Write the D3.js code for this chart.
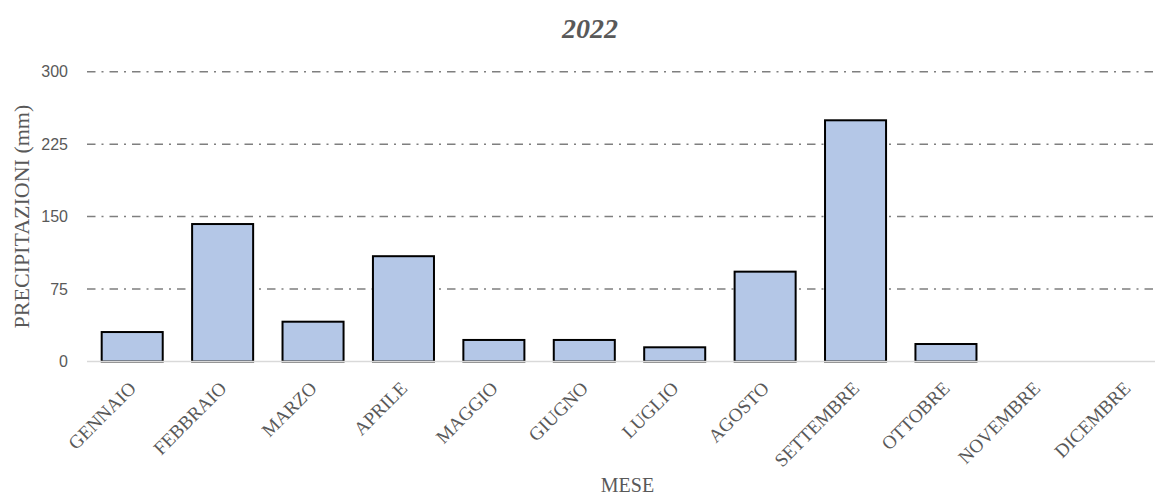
<!DOCTYPE html>
<html>
<head>
<meta charset="utf-8">
<script src="https://cdn.jsdelivr.net/npm/d3@7"></script>
<style>
  html, body { margin: 0; padding: 0; background: #fff; }
  svg { display: block; }
</style>
</head>
<body>
<script>
// Monthly precipitation, 2022
const months = ["GENNAIO", "FEBBRAIO", "MARZO", "APRILE", "MAGGIO", "GIUGNO",
                "LUGLIO", "AGOSTO", "SETTEMBRE", "OTTOBRE", "NOVEMBRE", "DICEMBRE"];
const precipitation = [30.5, 142.3, 41.2, 109, 22.3, 22.3, 14.7, 93, 249.7, 18.1, 0, 0];
const yTicks = [0, 75, 150, 225, 300];
const chartTitle = "2022";
const xTitle = "MESE";
const yTitle = "PRECIPITAZIONI (mm)";

const W = 1155, H = 495;
const plot = { left: 87, right: 1172, top: 71.7, bottom: 361.5 };

const svg = d3.select("body").append("svg")
  .attr("width", W).attr("height", H);

const x = d3.scaleBand()
  .domain(months)
  .range([plot.left, plot.right])
  .paddingInner(0.325)
  .paddingOuter(0.1625);

const y = d3.scaleLinear()
  .domain([0, 300])
  .range([plot.bottom, plot.top]);

// Horizontal dash-dot gridlines
svg.append("g")
  .selectAll("line")
  .data(yTicks.filter(d => d > 0))
  .join("line")
  .attr("x1", plot.left).attr("x2", plot.right)
  .attr("y1", d => y(d)).attr("y2", d => y(d))
  .attr("stroke", "#7f7f7f")
  .attr("stroke-width", 1.5)
  .attr("stroke-dasharray", "8.5,6,2,6");

// Y axis tick labels
const yAxis = d3.axisLeft(y).tickValues(yTicks).tickSize(0).tickPadding(0);
const gy = svg.append("g")
  .attr("transform", `translate(${plot.left - 19},0)`)
  .call(yAxis);
gy.select(".domain").remove();
gy.selectAll("text")
  .attr("fill", "#595959")
  .style("font-family", "'Liberation Sans', Arial, sans-serif")
  .style("font-size", "16px");

// Bars
svg.append("g")
  .selectAll("rect")
  .data(months.map((m, i) => ({ m, v: precipitation[i] })).filter(d => d.v > 0))
  .join("rect")
  .attr("x", d => x(d.m))
  .attr("width", x.bandwidth())
  .attr("y", d => y(d.v))
  .attr("height", d => y(0) - y(d.v))
  .attr("fill", "#b4c7e7")
  .attr("stroke", "#000")
  .attr("stroke-width", 2);

// Category axis line
svg.append("line")
  .attr("x1", plot.left).attr("x2", plot.right)
  .attr("y1", y(0)).attr("y2", y(0))
  .attr("stroke", "#d9d9d9")
  .attr("stroke-width", 1.5);

// Rotated month labels
const xAxis = d3.axisBottom(x).tickSize(0).tickPadding(0);
const gx = svg.append("g")
  .attr("transform", `translate(0,${plot.bottom})`)
  .call(xAxis);
gx.select(".domain").remove();
gx.selectAll("text")
  .attr("fill", "#595959")
  .style("font-family", "'Liberation Serif', 'Times New Roman', serif")
  .style("font-size", "19px")
  .attr("text-anchor", "end")
  .attr("dy", null)
  .attr("y", 0)
  .attr("transform", "translate(5,28) rotate(-45)");

// Chart title
svg.append("text")
  .attr("x", 590).attr("y", 38)
  .attr("text-anchor", "middle")
  .attr("fill", "#595959")
  .style("font-family", "'Liberation Serif', 'Times New Roman', serif")
  .style("font-weight", "bold")
  .style("font-style", "italic")
  .style("font-size", "28px")
  .text(chartTitle);

// Axis titles
svg.append("text")
  .attr("x", (plot.left + plot.right) / 2 - 2).attr("y", 492)
  .attr("text-anchor", "middle")
  .attr("fill", "#595959")
  .style("font-family", "'Liberation Serif', 'Times New Roman', serif")
  .style("font-size", "20px")
  .text(xTitle);

svg.append("text")
  .attr("transform", `translate(29,${(plot.top + plot.bottom) / 2}) rotate(-90)`)
  .attr("text-anchor", "middle")
  .attr("fill", "#595959")
  .style("font-family", "'Liberation Serif', 'Times New Roman', serif")
  .style("font-size", "22px")
  .text(yTitle);
</script>
</body>
</html>
